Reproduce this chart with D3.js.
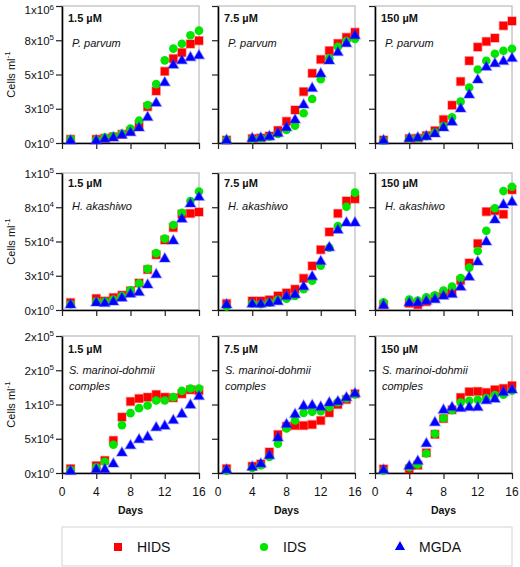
<!DOCTYPE html>
<html><head><meta charset="utf-8">
<script src="https://cdn.jsdelivr.net/npm/d3@7/dist/d3.min.js"></script>
<style>body{margin:0;background:#fff;}svg{display:block;font-family:"Liberation Sans",Arial,sans-serif;}</style>
</head><body><svg id="c" width="520" height="567"></svg>
<script>
const days = [1,4,5,6,7,8,9,10,11,12,13,14,15,16];
const concentrations = ["1.5 µM","7.5 µM","150 µM"];
const species = [["P. parvum"],["H. akashiwo"],["S. marinoi-dohmii","comples"]];
const seriesNames = ["HIDS","IDS","MGDA"];
const seriesColors = ["#ff0000","#00e600","#0000ff"];
const xTicks = [0,4,8,12,16];

const yTicksP = [0,250000,500000,750000,1000000];
const yTickLabelsP = ["0x10^0","3x10^5","5x10^5","8x10^5","1x10^6"];
const yTicksH = [0,25000,50000,75000,100000];
const yTickLabelsH = ["0x10^0","3x10^4","5x10^4","8x10^4","1x10^5"];
const yTicksS = [0,50000,100000,150000,200000];
const yTickLabelsS = ["0x10^0","5x10^4","1x10^5","2x10^5","2x10^5"];

// P. parvum
const hidsP15 = [27000,27000,34000,46000,63000,88000,134000,265000,380000,523000,616000,660000,723000,747000];
const idsP15  = [27000,22000,39000,51000,68000,105000,163000,277000,430000,603000,689000,725000,786000,820000];
const mgdaP15 = [15000,15000,27000,36000,56000,75000,109000,187000,290000,440000,567000,600000,623000,637000];
const hidsP75 = [22000,32000,36000,51000,92000,158000,241000,375000,509000,610000,674000,727000,771000,808000];
const idsP75  = [22000,29000,34000,46000,66000,95000,127000,217000,321000,465000,618000,703000,745000,759000];
const mgdaP75 = [19000,32000,36000,46000,70000,112000,168000,277000,399000,504000,599000,660000,725000,783000];
const hidsP150 = [22000,32000,34000,54000,90000,171000,276000,449000,600000,700000,741000,766000,856000,890000];
const idsP150  = [17000,32000,34000,49000,76000,124000,188000,302000,405000,537000,600000,651000,673000,688000];
const mgdaP150 = [17000,32000,37000,46000,66000,110000,151000,249000,351000,460000,553000,578000,595000,617000];
// H. akashiwo
const hidsH15 = [5400,8400,6600,9100,10800,14000,19700,29500,40300,51100,60200,70000,70500,71500];
const idsH15  = [4200,6100,6100,7600,10100,14300,19400,30000,41500,52100,62000,71000,79600,86500];
const mgdaH15 = [3700,5200,4700,5900,8600,11500,12800,18200,25800,37300,50400,66300,77400,82300];
const hidsH75 = [4700,6600,6600,7400,10300,12500,15200,23100,32200,44000,57000,70500,79600,81100];
const idsH75  = [2500,4700,4200,5400,7400,8300,10300,15200,21400,32400,45500,61200,75400,85700];
const mgdaH75 = [3700,4200,4200,4900,6100,9800,11100,17000,24300,35400,45500,58200,63600,63600];
const hidsH150 = [3900,4900,3900,6100,9300,11800,13000,21600,34300,48500,71800,72500,69900,87700];
const idsH150  = [5600,7600,6900,9300,10800,14200,17200,23300,30900,43100,57800,74300,86800,90000];
const mgdaH150 = [3400,5100,5100,6400,7600,10000,11300,16700,24000,35000,49700,65700,76700,78700];
// S. marinoi-dohmii
const hidsS15 = [6300,10700,18400,47600,81600,104400,108700,110700,114600,110700,109700,115500,121400,120400];
const idsS15  = [4400,8300,16500,41300,69900,87400,94700,98500,105800,105800,110700,119900,123300,123300];
const mgdaS15 = [2400,4900,4900,13100,29100,39800,48500,52400,66000,68400,76700,85900,99000,111700];
const hidsS75 = [6300,9800,13200,30700,56100,68300,69300,69300,70700,76600,87800,100000,107300,115600];
const idsS75  = [3400,7300,11200,23400,42900,64900,76600,87800,89300,90200,96100,103400,108800,114600];
const mgdaS75 = [4400,8300,13200,25400,51200,70700,85400,97600,98500,96100,102400,103900,109800,115600];
const hidsS150 = [5900,5900,11300,29400,56400,79400,92200,110300,118600,119100,117600,121600,123500,127500];
const idsS150  = [3400,8300,12300,28400,57400,79900,91700,102900,105400,106900,109300,113700,114200,120100];
const mgdaS150 = [3900,9800,17200,42600,73500,91700,95600,94100,95600,95600,105400,107800,117600,121100];

const rowsDef = [
  {ticks:yTicksP, labels:yTickLabelsP, panels:[[hidsP15,idsP15,mgdaP15],[hidsP75,idsP75,mgdaP75],[hidsP150,idsP150,mgdaP150]]},
  {ticks:yTicksH, labels:yTickLabelsH, panels:[[hidsH15,idsH15,mgdaH15],[hidsH75,idsH75,mgdaH75],[hidsH150,idsH150,mgdaH150]]},
  {ticks:yTicksS, labels:yTickLabelsS, panels:[[hidsS15,idsS15,mgdaS15],[hidsS75,idsS75,mgdaS75],[hidsS150,idsS150,mgdaS150]]}
];

const svg = d3.select("#c");
const colX = [62,218,375], rowY = [6,173,336], W = 137, H = 137;
const symTypes = [d3.symbolSquare, d3.symbolCircle, d3.symbolTriangle];
const symSizes = [64, 58, 48];
const labelOff = [[21.5,46.5],[187,210],[353,374,390]];

function supText(sel, str, mainSize, supSize){
  const [m,e] = str.split("^");
  sel.append("tspan").text(m).attr("font-size",mainSize);
  if(e!==undefined) sel.append("tspan").text(e).attr("font-size",supSize).attr("dy",-4.5);
}

rowsDef.forEach((row, r) => {
  const y0 = rowY[r];
  row.panels.forEach((panel, c) => {
    const x0 = colX[c];
    const x = d3.scaleLinear().domain([0,16]).range([x0, x0+W]);
    const y = d3.scaleLinear().domain([0, row.ticks[row.ticks.length-1]]).range([y0+H, y0]);
    const g = svg.append("g");
    // frame
    g.append("rect").attr("x",x0).attr("y",y0).attr("width",W).attr("height",H)
      .attr("fill","none").attr("stroke","#c8c8c8").attr("stroke-width",1.5);
    // axes
    const ya = g.append("g").attr("transform",`translate(${x0},0)`)
      .call(d3.axisLeft(y).tickValues(row.ticks).tickSize(6).tickSizeOuter(0).tickFormat(""));
    const xa = g.append("g").attr("transform",`translate(0,${y0+H})`)
      .call(d3.axisBottom(x).tickValues(xTicks).tickSize(6).tickSizeOuter(0).tickFormat(""));
    [ya,xa].forEach(a=>{a.select(".domain").attr("stroke","#000").attr("stroke-width",1.6);
      a.selectAll(".tick line").attr("stroke","#222").attr("stroke-width",1.2);});
    if(c===0){
      row.ticks.forEach((t,i)=>{
        const tx = g.append("text").attr("x",x0-8).attr("y",Math.max(y(t)+4.5, 14))
          .attr("text-anchor","end").attr("fill","#111");
        supText(tx, row.labels[i], 11.5, 8);
      });
      const yt = g.append("text").attr("transform",`translate(15,${y0+H/2}) rotate(-90)`)
        .attr("text-anchor","middle").attr("fill","#111");
      yt.append("tspan").text("Cells ml").attr("font-size",11);
      yt.append("tspan").text("-1").attr("font-size",8).attr("dy",-5);
    }
    if(r===2){
      xTicks.forEach(t=>{
        g.append("text").attr("x",x(t)).attr("y",y0+H+23).attr("text-anchor","middle")
          .attr("font-size",12).attr("fill","#111").text(t);
      });
      g.append("text").attr("x",x0+W/2).attr("y",y0+H+41).attr("text-anchor","middle")
        .attr("font-size",10.5).attr("font-weight","bold").attr("fill","#111").text("Days");
    }
    // labels
    g.append("text").attr("x",x0+6).attr("y",labelOff[r][0]).attr("font-size",11)
      .attr("font-weight","bold").attr("fill","#111").text(concentrations[c]);
    species[r].forEach((s,k)=>{
      g.append("text").attr("x",x0+(r===2?7:10)).attr("y",labelOff[r][k+1]).attr("font-size",11)
        .attr("font-style","italic").attr("fill","#111").text(s);
    });
    // points
    panel.forEach((vals, si)=>{
      g.append("g").selectAll("path").data(vals).join("path")
        .attr("d", d3.symbol().type(symTypes[si]).size(symSizes[si]))
        .attr("transform",(v,i)=>`translate(${x(days[i])},${y(v)})`)
        .attr("fill",seriesColors[si])
        .attr("stroke", si===0 ? "rgba(255,0,0,0.35)" : (si===2 ? "rgba(60,60,255,0.35)" : "none"))
        .attr("stroke-width",1.5);
    });
  });
});

// legend
const lg = svg.append("g");
lg.append("rect").attr("x",62).attr("y",527).attr("width",450).attr("height",39)
  .attr("fill","none").attr("stroke","#d4d4d4").attr("stroke-width",1);
const legX = [118,264,400];
seriesNames.forEach((n,i)=>{
  lg.append("path").attr("d",d3.symbol().type(symTypes[i]).size(i===0?64:(i===1?52:45)))
    .attr("transform",`translate(${legX[i]},${547})`).attr("fill",seriesColors[i]);
  lg.append("text").attr("x",legX[i]+19).attr("y",552).attr("font-size",14).attr("fill","#111").text(n);
});
</script></body></html>
